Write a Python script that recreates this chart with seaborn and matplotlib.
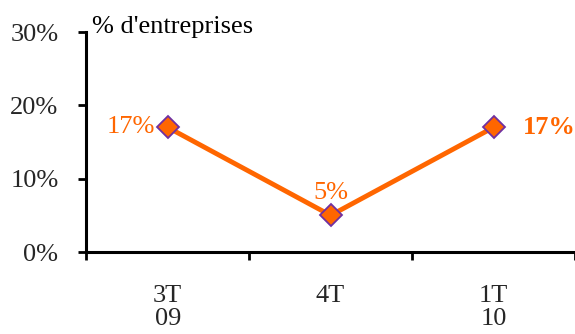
import matplotlib
matplotlib.use("Agg")
import matplotlib.pyplot as plt
import seaborn as sns
import pandas as pd

categories = ["3T\n09", "4T", "1T\n10"]
values = [17, 5, 17]
value_labels = ["17%", "5%", "17%"]
ytick_labels = ["0%", "10%", "20%", "30%"]

sns.set_theme(style="white")
plt.rcParams['font.family'] = ['Liberation Serif', 'DejaVu Serif']

FS = 19
fig = plt.figure(figsize=(5.75, 3.34), dpi=100)
ax = fig.add_axes([0.15, 0.2455, 0.85, 0.6585])

df = pd.DataFrame({"x": list(range(len(categories))), "y": values})
sns.lineplot(data=df, x="x", y="y", ax=ax, color="#FF6600", linewidth=3.5,
             marker="D", markersize=11, markerfacecolor="#FF6600",
             markeredgecolor="#7030A0", markeredgewidth=1.3)

ax.set_xlim(-0.5, 2.5)
ax.set_ylim(0, 30)
ax.set_xlabel("")
ax.set_ylabel("")

ax.set_yticks([0, 10, 20, 30])
ax.set_yticklabels(ytick_labels, fontsize=FS)
ax.set_xticks([-0.5, 0.5, 1.5, 2.5])
ax.set_xticklabels([])
ax.set_xticks([0, 1, 2], minor=True)
ax.set_xticklabels(categories, minor=True, fontsize=FS, linespacing=1.05, va="top")
ax.tick_params(axis="x", which="minor", length=0, pad=24)
ax.tick_params(axis="x", which="major", direction="out", length=6, width=2, color="black", bottom=True)
ax.tick_params(axis="y", direction="out", length=6, width=2, color="black", left=True, pad=14)

for s in ["top", "right"]:
    ax.spines[s].set_visible(False)
for s in ["left", "bottom"]:
    ax.spines[s].set_color("black")
    ax.spines[s].set_linewidth(2.2)

ax.annotate(value_labels[0], (0, values[0]), xytext=(-9, 0), textcoords="offset points",
            ha="right", va="center", color="#FF6600", fontsize=FS)
ax.annotate(value_labels[1], (1, values[1]), xytext=(0, 8), textcoords="offset points",
            ha="center", va="bottom", color="#FF6600", fontsize=FS)
ax.annotate(value_labels[2], (2, values[2]), xytext=(21, 0), textcoords="offset points",
            ha="left", va="center", color="#FF6600", fontsize=FS, fontweight="bold")

fig.text(92/575, 1 - 33/334, "% d'entreprises", fontsize=FS, ha="left", va="baseline", color="black")

fig.savefig("out.png", dpi=100)
